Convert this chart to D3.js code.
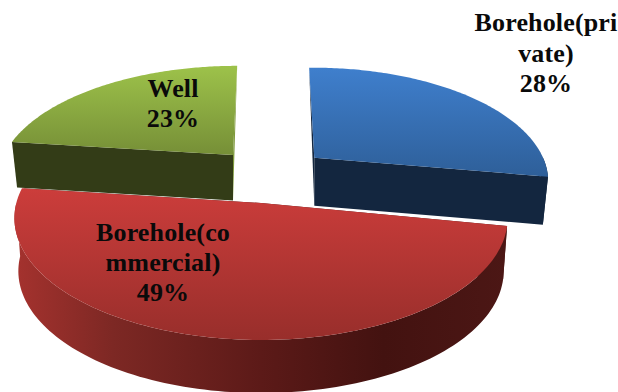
<!DOCTYPE html>
<html>
<head>
<meta charset="utf-8">
<script src="https://cdn.jsdelivr.net/npm/d3@7"></script>
<style>
  html, body { margin: 0; padding: 0; background: #fff; }
  svg { display: block; }
  text { font-family: "Liberation Serif", serif; font-weight: 700; fill: #0a0a0a; }
</style>
</head>
<body>
<svg id="chart" width="618" height="392"></svg>
<script>
// Water sources, in pie order clockwise from twelve o'clock
const categories = ["Borehole(private)", "Borehole(commercial)", "Well"];
const shares = [28, 49, 23];
const labelLines = [["Borehole(pri", "vate)"], ["Borehole(co", "mmercial)"], ["Well"]];

// Projection and extrusion of each exploded slice
const sliceGeometry = [
  { ax: 314.3, ay: 157.7, rx: 227.8, ry: 108, k: 0.2, shear: 6.2, tilt: -2, drop: 48, squeeze: 0.978 },
  { ax: 261, ay: 203, rx: 244.7, ry: 120, k: 0.124, shear: 0, tilt: 0, drop: 53, squeeze: 0.984 },
  { ax: 233, ay: 155, rx: 229, ry: 107, k: 0.2, shear: -5, tilt: 0, drop: 45.5, squeeze: 0.977 }
];
const sliceStyle = [
  { top: ["#3f7fcd", "#2e5f99"], edge: "#13263f", cut: "#13263f", wall: [["0", "#13263f"], ["1", "#13263f"]] },
  { top: ["#cc3d3b", "#982e2b"], edge: "#4a1614", cut: "#4a1614",
    wall: [["0", "#a5322e"], ["0.2", "#7d2824"], ["0.5", "#5c1a18"], ["0.75", "#431210"], ["1", "#4c1715"]] },
  { top: ["#9dc24a", "#768f37"], edge: "#7f9a3c", cut: "#333c17", wall: [["0", "#333c17"], ["1", "#333c17"]] }
];
const labelAnchors = [
  { x: 546, y: 31 }, { x: 163, y: 241 }, { x: 173, y: 97 }
];
const lineStep = [30.5, 30, 30];

const svg = d3.select("#chart");
const defs = svg.append("defs");
const pie = d3.pie().sort(null).value(d => d);
const arcs = pie(shares);
const pathOf = d3.line().x(p => p[0]).y(p => p[1]);

function projectTop(g, angle) {
  const u = Math.sin(angle), v = -Math.cos(angle);
  const w = 1 - g.k * v;
  return [g.ax + (g.rx * u + g.shear * v) / w, g.ay + (g.ry * v + g.tilt * u) / w];
}
function dropDown(g, p) {
  return [g.ax + (p[0] - g.ax) * g.squeeze, p[1] + g.drop];
}

arcs.forEach((a, i) => {
  const g = sliceGeometry[i], s = sliceStyle[i];
  const n = 120;
  const angles = d3.range(n + 1).map(j => a.startAngle + (a.endAngle - a.startAngle) * j / n);
  const rim = angles.map(t => projectTop(g, t));
  const apex = [g.ax, g.ay];
  const rimLow = rim.map(p => dropDown(g, p));
  const apexLow = dropDown(g, apex);

  const ext = d3.extent(rim, p => p[1]);
  const topId = "top" + i, wallId = "wall" + i;
  const tg = defs.append("linearGradient").attr("id", topId).attr("gradientUnits", "userSpaceOnUse")
    .attr("x1", 0).attr("x2", 0).attr("y1", Math.min(ext[0], g.ay)).attr("y2", Math.max(ext[1], g.ay));
  tg.append("stop").attr("offset", 0).attr("stop-color", s.top[0]);
  tg.append("stop").attr("offset", 1).attr("stop-color", s.top[1]);
  const xs = d3.extent(rim, p => p[0]);
  const wg = defs.append("linearGradient").attr("id", wallId).attr("gradientUnits", "userSpaceOnUse")
    .attr("x1", xs[0]).attr("x2", xs[1]).attr("y1", 0).attr("y2", 0);
  s.wall.forEach(st => wg.append("stop").attr("offset", st[0]).attr("stop-color", st[1]));

  const group = svg.append("g").attr("class", "slice").attr("data-name", categories[i]);
  const straight = i === 0 ? n : 0;
  const sliver = i === 0 ? rim[0] : rim[n];

  // straight cut face toward the viewer
  group.append("path").attr("d", pathOf([apex, rim[straight], rimLow[straight], apexLow]) + "Z").attr("fill", s.cut);
  // thin cut face along the other radius
  group.append("path").attr("d", pathOf([sliver, apexLow, apex]) + "Z").attr("fill", s.edge);
  // outer wall: only the part of the arc turned toward the viewer
  const front = d3.range(n + 1).filter(j => Math.cos(angles[j]) < 0);
  if (front.length > 1) {
    const upper = front.map(j => rim[j]), lower = front.map(j => rimLow[j]).reverse();
    group.append("path").attr("d", pathOf(upper.concat(lower)) + "Z").attr("fill", `url(#${wallId})`);
  }
  // top face
  group.append("path").attr("d", pathOf([apex].concat(rim)) + "Z").attr("fill", `url(#${topId})`);
});

// Labels: the category as broken over lines, then the share
arcs.forEach((a, i) => {
  const lines = labelLines[i].concat([a.data + "%"]);
  const t = svg.append("text").attr("text-anchor", "middle").attr("font-size", 26).attr("letter-spacing", 0.15);
  lines.forEach((line, j) => {
    t.append("tspan").attr("x", labelAnchors[i].x).attr("y", labelAnchors[i].y + j * lineStep[i]).text(line);
  });
});
</script>
</body>
</html>
